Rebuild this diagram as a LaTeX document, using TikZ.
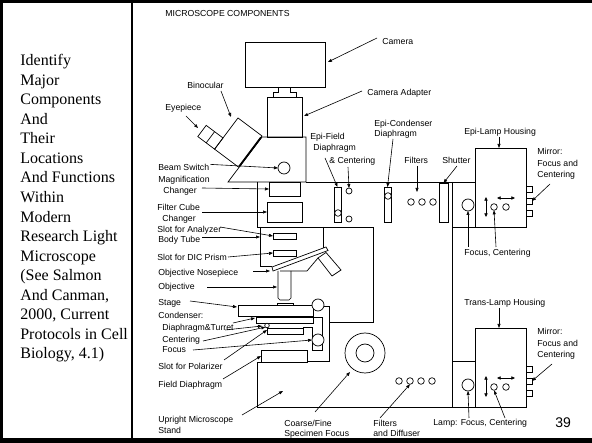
\documentclass[tikz,border=0pt]{standalone}
\usepackage{fontspec}
\newfontfamily\lab{Liberation Sans}
\newfontfamily\ser{Liberation Serif}
\usetikzlibrary{arrows.meta}
\begin{document}
\begin{tikzpicture}[x=1pt,y=-1pt, line width=0.7pt, line join=miter,
  lbl/.style={font=\fontsize{8.7}{10}\selectfont\lab, inner sep=0pt, anchor=base west},
  arr/.style={-{Triangle[length=4pt,width=3pt]}, line width=0.6pt},
  darr/.style={{Triangle[length=3.6pt,width=3.2pt]}-{Triangle[length=3.6pt,width=3.2pt]}, line width=0.6pt},
  box/.style={draw, rectangle, fill=white, inner sep=0pt, outer sep=0pt},
  ring/.style={draw, circle, fill=white, inner sep=0pt, outer sep=0pt},
  lt/.style={font=\fontsize{16}{19.55}\selectfont\ser, inner sep=0pt, anchor=base west}]
\useasboundingbox (0,0) rectangle (592,443);
% frame
\draw[line width=3pt] (0,1.5) -- (592,1.5);
\draw[line width=3.4pt] (1.7,0) -- (1.7,443);
\draw[line width=4.6pt] (0,440.7) -- (592,440.7);
\draw[line width=1.4pt] (132,0) -- (132,443);
% left text
\foreach \t [count=\i, evaluate=\i as \yy using 65.7+19.55*(\i-1)] in
  {{Identify},{Major},{Components},{And},{Their},{Locations},{And Functions},{Within},{Modern},{Research Light},{Microscope},{(See Salmon},{And Canman,},{2000, Current},{Protocols in Cell},{Biology, 4.1)}}
  \node[lt] (L\i) at (20,\yy) {\t};
% ---------- microscope body ----------
\node[box, minimum width=80pt, minimum height=45pt] (cam) at (285,64.5) {};
\node[box, minimum width=35pt, minimum height=40pt] (adp) at (284.5,117) {};
\draw (278,87) -- (278,92) -- (273,92) -- (273,97) -- (296,97) -- (296,92) -- (290,92) -- (290,87);
% head
\draw (262,137) -- (306,137) -- (306,182) -- (228,182) -- cycle;
% binocular tube and eyepiece
\draw (238,118) -- (262,136) -- (238.6,167.2) -- (214.6,149.2) -- cycle;
\draw[line width=1.8pt] (261,137.4) -- (239.4,166.2);
\draw (223,138) -- (214.6,149.2) -- (197.8,136.6) -- (206.2,125.4) -- cycle;
\draw (214.6,131.7) -- (206.2,142.9);
% beam switch
\node[ring, minimum size=12pt] (bsw) at (284,168) {};
% main box and light path
\draw (306,182) -- (475,182);
\draw (257,182) -- (257,227) -- (373,227) -- (373,322) -- (329,322);
\node[box, minimum width=31pt, minimum height=14pt] (mag) at (284.5,189) {};
\node[box, minimum width=35pt, minimum height=20pt] (fcube) at (284.5,212) {};
% body tube
\draw (260,227) -- (260,266) -- (272,266);
\draw (323,227) -- (323,248);
\node[box, minimum width=23pt, minimum height=6pt] (ana) at (284.5,236) {};
\node[box, minimum width=23pt, minimum height=6pt] (dic) at (284.5,253) {};
% nosepiece and objectives
\draw (272,267) -- (326,247) -- (328,250.5) -- (273,271) -- cycle;
\draw (280,271) -- (307,271) -- (318,258);
\draw (318,258) -- (326,252.5) -- (341,270) -- (332,276) -- cycle;
\draw (278,271) -- (278,298) -- (280,300) -- (289,300) -- (291,298) -- (291,271);
% stage
\node[box, minimum width=16pt, minimum height=3pt] (slide) at (285,304.5) {};
\node[box, minimum width=75pt, minimum height=11pt] (stage) at (275.5,310.5) {};
\draw (324,306) -- (329,306) -- (329,361) -- (307,361);
\draw (313,317) -- (322,317) -- (322,350) -- (312,350) -- (312,327) -- (303,327);
\node[ring, minimum size=12pt] (sknob) at (318,305) {};
\node[box, minimum width=57pt, minimum height=6pt] (cond) at (284.5,320) {};
\node[ring, minimum size=4.6pt] (cent) at (267,325.5) {};
\node[box, minimum width=36pt, minimum height=6pt] (pol) at (285,331) {};
\node[ring, minimum size=12pt] (fknob) at (318,340) {};
\node[box, minimum width=46pt, minimum height=12pt] (fdia) at (284,356) {};
% stand
\draw (261,362) -- (257,362) -- (257,407) -- (526,407);
\node[ring, minimum size=40pt] (coarse) at (365,353) {};
\node[ring, minimum size=18pt] (fine) at (365,353) {};
\draw (452,182) -- (452,407);
% filters and diffuser
\foreach \x [count=\i] in {399,410,421,432} \node[ring, minimum size=6.6pt] (fd\i) at (\x,381) {};
% epi sliders
\node[box, minimum width=7pt, minimum height=35pt] (efs) at (337.5,204.5) {};
\node[ring, minimum size=6.6pt] (efc) at (338,213) {};
\node[ring, minimum size=6pt] (efa) at (349,191) {};
\node[ring, minimum size=6pt] (efb) at (349,219) {};
\node[box, minimum width=7pt, minimum height=35pt] (ecs) at (387.5,204.5) {};
\node[ring, minimum size=6.6pt] (ecc) at (388,196) {};
\foreach \x [count=\i] in {411,422,433} \node[ring, minimum size=6.6pt] (ef\i) at (\x,202) {};
\node[box, minimum width=9pt, minimum height=39pt] (shut) at (443.5,202.5) {};
% epi lamp
\draw (452,227) -- (475,227);
\node[box, minimum width=51pt, minimum height=79pt] (ehouse) at (500.5,187.5) {};
\node[ring, minimum size=12pt] (elamp) at (468,205) {};
\draw[darr] (486,197) -- (486,217);
\draw[darr] (497,198) -- (515,198);
\node[ring, minimum size=6.6pt] (ec1) at (494,207) {};
\node[ring, minimum size=6.6pt] (ec2) at (506,207) {};
\foreach \y [count=\i] in {189,201,213} \node[box, minimum size=6pt] (em\i) at (529,\y) {};
% trans lamp
\draw (452,361) -- (475,361);
\node[box, minimum width=51pt, minimum height=79pt] (thouse) at (500.5,367.5) {};
\node[ring, minimum size=12pt] (tlamp) at (468,385) {};
\draw[darr] (486,376) -- (486,397);
\draw[darr] (497,378) -- (515,378);
\node[ring, minimum size=6.6pt] (tc1) at (494,387) {};
\node[ring, minimum size=6.6pt] (tc2) at (506,387) {};
\foreach \y [count=\i] in {369,381,393} \node[box, minimum size=6pt] (tm\i) at (529,\y) {};
% ---------- labels ----------
\node[lbl] (title) at (165,17) {MICROSCOPE COMPONENTS};
\node[lbl] (camL) at (382,45) {Camera};
\node[lbl] (adL) at (367,96) {Camera Adapter};
\node[lbl] (binL) at (187,89) {Binocular};
\node[lbl] (eyeL) at (165,111) {Eyepiece};
\node[lbl] (efL1) at (310,140) {Epi-Field};
\node[lbl] (efL2) at (313,150.5) {Diaphragm};
\node[lbl] (efL3) at (329,164) {\& Centering};
\node[lbl] (ecL1) at (374,126.5) {Epi-Condenser};
\node[lbl] (ecL2) at (374,136.5) {Diaphragm};
\node[lbl] (elL) at (464,135) {Epi-Lamp Housing};
\node[lbl] (emL1) at (537,155) {Mirror:};
\node[lbl] (emL2) at (537,166.5) {Focus and};
\node[lbl] (emL3) at (537,178) {Centering};
\node[lbl] (filL) at (404,164) {Filters};
\node[lbl] (shL) at (442,164) {Shutter};
\node[lbl] (fcL) at (464,256) {Focus, Centering};
\node[lbl] (bsL) at (158,170.5) {Beam Switch};
\node[lbl] (mcL1) at (158,183) {Magnification};
\node[lbl] (mcL2) at (163,194) {Changer};
\node[lbl] (fcbL1) at (157,211) {Filter Cube};
\node[lbl] (fcbL2) at (162,222) {Changer};
\node[lbl] (anL) at (157,233) {Slot for Analyzer};
\node[lbl] (btL) at (158,243) {Body Tube};
\node[lbl] (dicL) at (157,261) {Slot for DIC Prism};
\node[lbl] (npL) at (158,276) {Objective Nosepiece};
\node[lbl] (obL) at (158,290) {Objective};
\node[lbl] (stL) at (158,306) {Stage};
\node[lbl] (cdL) at (158,319) {Condenser:};
\node[lbl] (dtL) at (162,331) {Diaphragm\&Turret};
\node[lbl] (ceL) at (162,343) {Centering};
\node[lbl] (foL) at (162,353) {Focus};
\node[lbl] (poL) at (158,370) {Slot for Polarizer};
\node[lbl] (fdL) at (158,388) {Field Diaphragm};
\node[lbl] (usL1) at (158,423) {Upright Microscope};
\node[lbl] (usL2) at (158,434) {Stand};
\node[lbl] (cfL1) at (284,426.5) {Coarse/Fine};
\node[lbl] (cfL2) at (284,437) {Specimen Focus};
\node[lbl] (fdfL1) at (373,427) {Filters};
\node[lbl] (fdfL2) at (373,437) {and Diffuser};
\node[lbl] (lfL) at (433,426) {Lamp: Focus, Centering};
\node[lbl, font=\fontsize{14}{16}\selectfont\lab] (pg) at (555,428) {39};
\node[lbl] (tlL) at (464,306) {Trans-Lamp Housing};
\node[lbl] (tmL1) at (537,335) {Mirror:};
\node[lbl] (tmL2) at (537,346.5) {Focus and};
\node[lbl] (tmL3) at (537,358) {Centering};
% ---------- arrows ----------
\draw[arr] (377,38) -- (328,62);
\draw[arr] (362,91) -- (304,116);
\draw[arr] (221,91) -- (231,117);
\draw[arr] (186,116) -- (198,128);
\draw[arr] (bsL.east) ++(1,-3) -- (bsw.west);
\draw[arr] (202,188) -- (mag.west);
\draw[arr] (202,212) -- (fcube.west);
\draw[arr] (220,227) -- (ana.west);
\draw[arr] (202,237) -- (260,237);
\draw[arr] (228,257) -- (dic.west);
\draw[arr] (253,271) -- (270,271);
\draw[arr] (207,287) -- (277,287);
\draw[arr] (190,301) -- (237,307);
\draw[arr] (233,323) -- (255,318);
\draw[arr] (225,330) -- (262,326);
\draw[arr] (203,341) -- (cent.south west);
\draw[arr] (193,350) -- (fknob.west);
\draw[arr] (224,360) -- (267,330);
\draw[arr] (223,379) -- (fdia.west);
\draw[arr] (242,415) -- (283,391);
\draw[arr] (315,412) -- (350,372);
\draw[arr] (380,418) -- (fd2.south);
\draw[arr] (469,418) -- (tlamp.south);
\draw[arr] (505,418) -- (tc1.south);
\draw[arr] (499,308) -- (499,328);
\draw[arr] (552,364) -- (tm2.east);
\draw[arr] (325,158) -- (efs.north);
\draw[arr] (348,167) -- (efa.north);
\draw[arr] (393,139) -- (ecs.north);
\draw[arr] (417,166) -- (417,192);
\draw[arr] (457,166) -- (shut.north);
\draw[arr] (499,137) -- (499,148);
\draw[arr] (550,184) -- (em2.east);
\draw[arr] (468,247) -- (elamp.south);
\draw[arr] (496,247) -- (ec1.south);
\end{tikzpicture}
\end{document}
